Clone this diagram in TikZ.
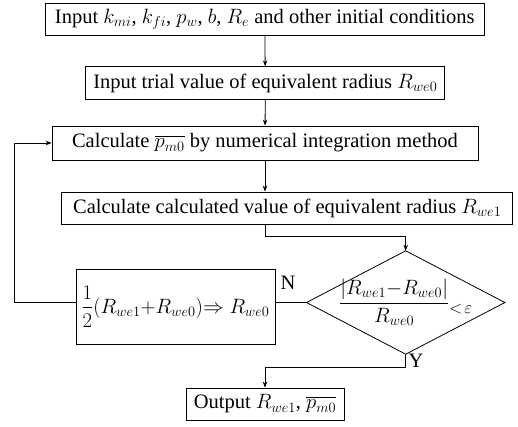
\documentclass[tikz,border=0pt]{standalone}
\usepackage{amsmath}
\usepackage{fontspec}
\setmainfont{Liberation Serif}
\usetikzlibrary{arrows.meta}
\begin{document}
\begin{tikzpicture}[x=1pt,y=-1pt,
  txt/.style={font=\fontsize{20.5}{24}\selectfont},
  box/.style={draw, line width=0.8pt, inner sep=0pt, txt},
  arr/.style={-{Stealth[length=6pt,width=4.5pt]}, line width=0.8pt},
  ln/.style={line width=0.8pt}]
\useasboundingbox (0,0) rectangle (518,426);
\node[box, minimum width=439pt, minimum height=32.5pt] (b1) at (264.8,19.5)
  {Input $k_{mi}$, $k_{fi}$, $p_w$, $b$, $R_e$ and other initial conditions};
\node[box, minimum width=359pt, minimum height=32.6pt] (b2) at (265.3,83)
  {Input trial value of equivalent radius $R_{we0}$};
\node[box, minimum width=426pt, minimum height=34pt] (b3) at (265,143)
  {Calculate $\overline{p_{m0}}$ by numerical integration method};
\node[box, minimum width=451pt, minimum height=32pt] (b4) at (287.2,208)
  {Calculate calculated value of equivalent radius $R_{we1}$};
\node[txt, inner sep=0pt, minimum width=198pt, minimum height=103pt] (d) at (405.7,302.5)
  {\raisebox{-6pt}{$\dfrac{\left|R_{we1}{-}R_{we0}\right|}{R_{we0}}$\raisebox{-5pt}{\fontsize{18}{20}\selectfont$<\!\varepsilon$}}};
\draw[ln] (d.north) -- (d.east) -- (d.south) -- (d.west) -- cycle;
\node[box, minimum width=199pt, minimum height=75pt] (b5) at (175.5,306.5)
  {\raisebox{4pt}{$\dfrac{1}{2}(R_{we1}{+}R_{we0}){\Rightarrow}\;R_{we0}$}};
\node[box, minimum width=158pt, minimum height=32pt] (b6) at (265,404)
  {Output $R_{we1}$, $\overline{p_{m0}}$};
\node[txt] (nl) at (288,283) {N};
\node[txt] (yl) at (416,361) {Y};
\coordinate (j1) at (265,236);
\coordinate (j2) at (405.7,367);
\coordinate (j3) at (14,302.5);
\draw[arr] (b1) -- (b2);
\draw[arr] (b2) -- (b3);
\draw[arr] (b3.south) -- (b3.south |- b4.north);
\draw[arr] (b4.south -| j1) -- (j1) -| (d.north);
\draw[ln] (d.west) -- (d.west -| b5.east);
\draw[arr] (d.west -| b5.west) -- (j3) |- (b3.west);
\draw[arr] (d.south) -- (j2) -| (b6.north);
\end{tikzpicture}
\end{document}
